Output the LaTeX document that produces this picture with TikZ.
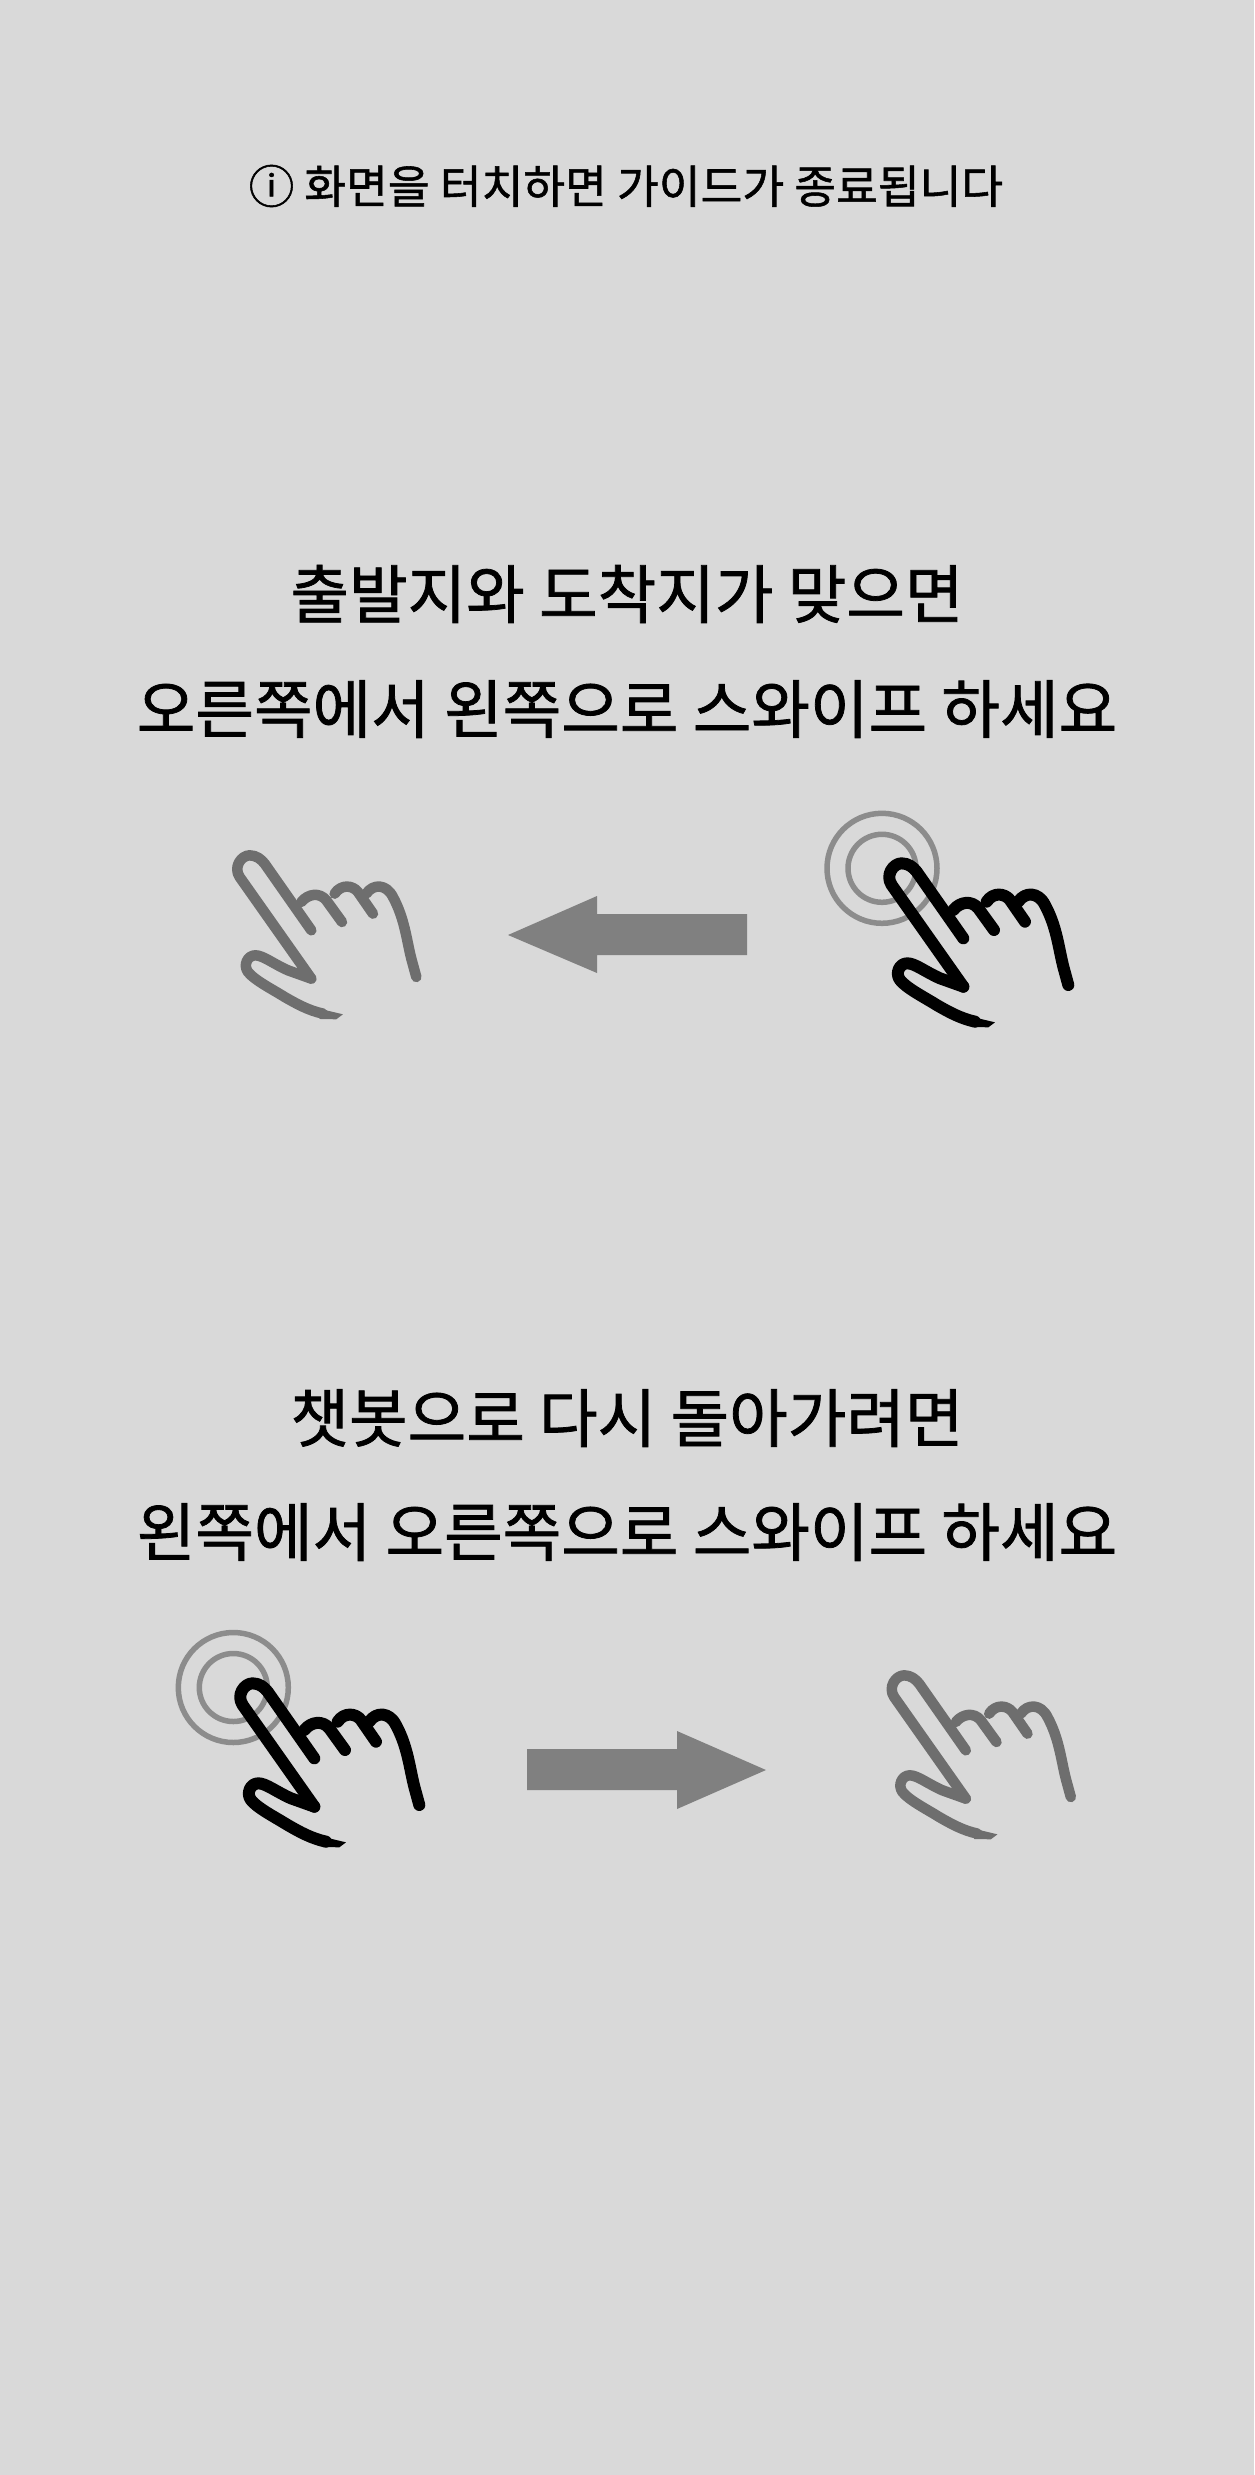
\documentclass[tikz,border=0pt]{standalone}
\usepackage{fontspec}
\setmainfont[FakeBold=1.2]{Noto Sans CJK KR}
\definecolor{bgc}{HTML}{D9D9D9}
\definecolor{ringc}{HTML}{8C8C8C}
\definecolor{arrowc}{HTML}{808080}
\definecolor{ghostc}{HTML}{6E6E6E}
\tikzset{
  big/.style={font=\fontsize{63.7pt}{70pt}\selectfont,text=black,inner sep=0pt,anchor=center},
  small/.style={font=\fontsize{45.4pt}{50pt}\selectfont,text=black,inner sep=0pt,anchor=center},
  handline/.style={line cap=round,line join=round,line width=#1},
  ring/.style={draw=ringc,line width=5.5pt,fill=none},
  bararrow/.style={fill=arrowc,draw=none}
}
\newcommand{\handshape}[4]{% x, y, colour, width
  \begin{scope}[shift={(#1,#2)},x=0.3333pt,y=-0.3333pt,draw=#3,fill=#3,handline=#4]
    \draw (490,590) -- (420,565) .. controls (375,545) and (345,520) .. (322,520)
      .. controls (298,520) and (285,550) .. (300,570)
      .. controls (320,595) and (370,620) .. (410,645)
      .. controls (445,665) and (480,685) .. (525,695);
    \fill[draw=none] (505,678) -- (585,697) -- (565,712) -- (515,711) -- cycle;
    \draw (490,590) -- (275,285) .. controls (255,255) and (280,220) .. (305,220)
      .. controls (325,220) and (340,232) .. (350,245) -- (490,445);
    \draw (460,360) .. controls (480,335) and (515,330) .. (535,355) -- (582,420);
    \draw (560,335) .. controls (580,305) and (615,310) .. (630,330) -- (675,395);
    \draw (655,335) .. controls (675,305) and (715,305) .. (735,345)
      .. controls (770,410) and (775,470) .. (790,530) -- (805,585);
  \end{scope}
}
\begin{document}
\begin{tikzpicture}[x=1pt,y=-1pt]
\useasboundingbox (0,0) rectangle (1254,2475);
\fill[bgc] (0,0) rectangle (1254,2475);
\node[small] (guide) at (626,186) {ⓘ 화면을 터치하면 가이드가 종료됩니다};
\node[big] (t1) at (627,594) {출발지와 도착지가 맞으면};
\node[big] (t2) at (627,709) {오른쪽에서 왼쪽으로 스와이프 하세요};
\node[big] (t3) at (627,1418) {챗봇으로 다시 돌아가려면};
\node[big] (t4) at (627,1532) {왼쪽에서 오른쪽으로 스와이프 하세요};
% top gesture
\draw[ring] (882,868.3) circle (55);
\draw[ring] (882,868.3) circle (34);
\handshape{800}{790}{black}{12pt}
\fill[bararrow] (508,935) -- (597,896) -- (597,914) -- (747,914) -- (747,955) -- (597,955) -- (597,973) -- cycle;
\handshape{148}{782}{ghostc}{10.5pt}
% bottom gesture
\draw[ring] (233.3,1687.5) circle (55);
\draw[ring] (233.3,1687.5) circle (34);
\handshape{151}{1610}{black}{12pt}
\fill[bararrow] (766,1770) -- (677,1731) -- (677,1749) -- (527,1749) -- (527,1790) -- (677,1790) -- (677,1809) -- cycle;
\handshape{802.5}{1602}{ghostc}{10.5pt}
\end{tikzpicture}
\end{document}
